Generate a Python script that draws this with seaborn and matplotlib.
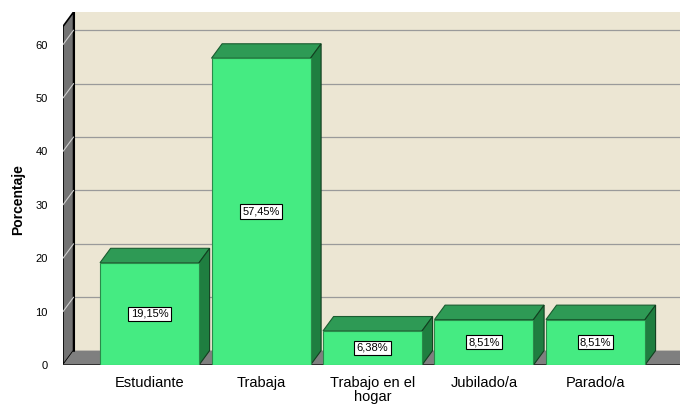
import matplotlib.pyplot as plt
import seaborn as sns
import pandas as pd
from matplotlib.patches import Polygon, Rectangle

categorias = ['Estudiante', 'Trabaja', 'Trabajo en el\nhogar', 'Jubilado/a', 'Parado/a']
porcentajes = [19.15, 57.45, 6.38, 8.51, 8.51]
etiquetas = ['19,15%', '57,45%', '6,38%', '8,51%', '8,51%']
yticks = [0, 10, 20, 30, 40, 50, 60]

df = pd.DataFrame({'cat': categorias, 'pct': porcentajes})

sns.set_style('white')
plt.rcParams['font.family'] = ['Liberation Sans', 'DejaVu Sans']
plt.rcParams['text.color'] = 'black'
plt.rcParams['xtick.color'] = 'black'
plt.rcParams['ytick.color'] = 'black'
plt.rcParams['axes.labelcolor'] = 'black'

fig = plt.figure(figsize=(6.8, 4.05), dpi=100)
ax = fig.add_axes([63 / 680, 40 / 405, 617 / 680, 353 / 405])

x0, x1 = -0.776, 4.758
ytop = 66.1
dx, dy = 0.095, 2.7
w = 0.888
front_top = ytop - dy

# back wall
ax.add_patch(Rectangle((x0 + dx, dy), x1 - x0 - dx, ytop - dy, facecolor='#ECE6D3',
                       edgecolor='none', zorder=0))
for v in yticks[1:]:
    ax.plot([x0 + dx, x1], [v + dy, v + dy], color='#9a9a9a', lw=0.9, zorder=1)
ax.plot([x0 + dx, x0 + dx], [dy, ytop], color='black', lw=1.5, zorder=3)

# left wall
ax.add_patch(Polygon([(x0, 0), (x0, front_top), (x0 + dx, ytop), (x0 + dx, dy)],
                     closed=True, facecolor='#737373', edgecolor='black', lw=1.2, zorder=2))
for v in yticks[1:]:
    ax.plot([x0, x0 + dx], [v, v + dy], color='#cfcfcf', lw=0.8, zorder=3)

# floor
ax.add_patch(Polygon([(x0, 0), (x0 + dx, dy), (x1, dy), (x1, 0)],
                     closed=True, facecolor='#7f7f7f', edgecolor='none', zorder=2))
ax.plot([x0, x1], [0, 0], color='#222222', lw=1.2, zorder=3)

sns.barplot(data=df, x='cat', y='pct', color='#45EB82', saturation=1, width=w,
            edgecolor='#2a8a4a', linewidth=0.8, ax=ax, zorder=5)

for i, v in enumerate(porcentajes):
    l, r = i - w / 2, i + w / 2
    ax.add_patch(Polygon([(l, v), (l + dx, v + dy), (r + dx, v + dy), (r, v)], closed=True,
                         facecolor='#2E9A55', edgecolor='#1a5c30', lw=0.8, zorder=4))
    ax.add_patch(Polygon([(r, 0), (r, v), (r + dx, v + dy), (r + dx, dy)], closed=True,
                         facecolor='#1F7E40', edgecolor='#123f20', lw=0.8, zorder=4))
    ax.text(i, v / 2, etiquetas[i], ha='center', va='center', fontsize=8, zorder=6,
            bbox=dict(boxstyle='square,pad=0.2', facecolor='white', edgecolor='black', lw=0.8))

ax.set_xlim(x0, x1)
ax.set_ylim(0, ytop)
ax.set_yticks(yticks)
ax.set_yticklabels([str(t) for t in yticks], fontsize=8)
ax.tick_params(axis='y', length=0, pad=11)
ax.tick_params(axis='x', length=0, pad=8, labelsize=10.5)
for s in ax.spines.values():
    s.set_visible(False)
ax.set_xlabel('')
ax.set_ylabel('Porcentaje', fontsize=10, fontweight='bold')
ax.yaxis.set_label_coords(-0.061, 0.47)
for lab in ax.get_xticklabels():
    lab.set_linespacing(1.0)

fig.savefig('out.png', dpi=100)
